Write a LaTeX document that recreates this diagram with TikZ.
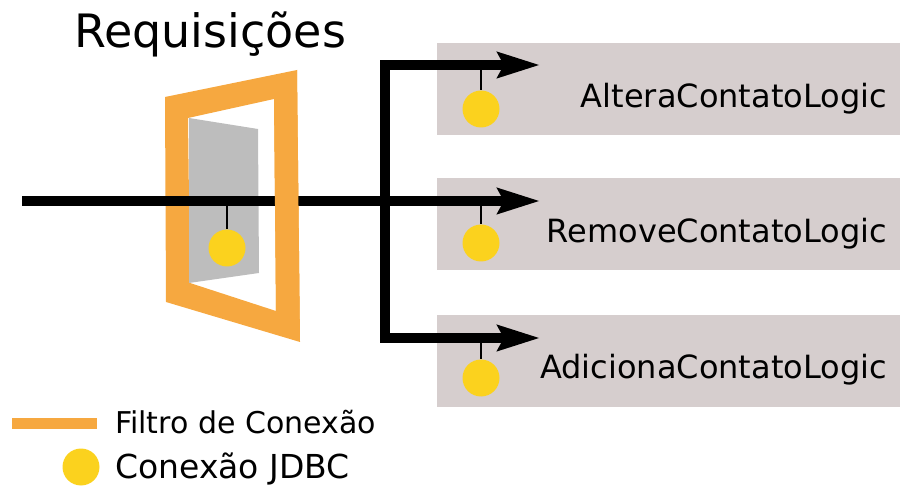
\documentclass[tikz,border=0pt]{standalone}
\usepackage{fontspec}
\setmainfont{DejaVu Sans}
\usetikzlibrary{arrows.meta}
\definecolor{boxgray}{HTML}{D6CECE}
\definecolor{frameorange}{HTML}{F6A840}
\definecolor{doorgray}{HTML}{BDBDBD}
\definecolor{jdbcyellow}{HTML}{FBD21E}
\tikzset{
  px/.style={x=1pt,y=-1pt},
  logicbox/.style={fill=boxgray,draw=none,minimum width=463pt,minimum height=92pt,inner sep=0pt},
  flow/.style={line width=9.5pt,line join=miter},
  tip/.style={-{Stealth[length=42pt,width=25pt,inset=6pt]}},
  pinstem/.style={line width=1.6pt},
  jdbc/.style={circle,fill=jdbcyellow,draw=none,minimum size=37pt,inner sep=0pt},
  boxlabel/.style={anchor=base east,inner sep=0pt,font=\fontsize{32}{36}\selectfont},
  legendtext/.style={anchor=base west,inner sep=0pt,font=\fontsize{30}{34}\selectfont},
}
\begin{document}
\begin{tikzpicture}[px]
\useasboundingbox (0,0) rectangle (900,486);
% boxes
\node[logicbox] (b1) at (668.5,89.5) {};
\node[logicbox] (b2) at (668.5,224) {};
\node[logicbox] (b3) at (668.5,361) {};
% title
\node[anchor=base,inner sep=0pt,font=\fontsize{46}{50}\selectfont] (title) at (210,48) {Requisições};
% filter frame
\fill[frameorange,even odd rule] (165,97) -- (297,70) -- (300,342) -- (166,302) -- cycle
  (188,118) -- (274,99) -- (276,311) -- (190,283) -- cycle;
\fill[doorgray] (189,118) -- (258,129) -- (259,273) -- (189,283) -- cycle;
% coordinates
\coordinate (start) at (22,201);
\coordinate (jTop) at (385,65);
\coordinate (jBot) at (385,338);
\coordinate (tTop) at (540,65);
\coordinate (tMid) at (540,201);
\coordinate (tBot) at (540,338);
% flows
\draw[flow,tip] (start) -- (tMid);
\draw[flow,{Stealth[length=42pt,width=25pt,inset=6pt]}-{Stealth[length=42pt,width=25pt,inset=6pt]}] (tTop) -- (jTop) -- (jBot) -- (tBot);
% right bar of frame over the line
\fill[frameorange] (274,99) -- (297,70) -- (300,342) -- (276,311) -- cycle;
% JDBC pins
\node[jdbc] (cf) at (227,248) {};
\node[jdbc] (c1) at (481,109) {};
\node[jdbc] (c2) at (481,243) {};
\node[jdbc] (c3) at (481,378) {};
\coordinate (sf) at (227,201);
\coordinate (s1) at (481,65);
\coordinate (s2) at (481,201);
\coordinate (s3) at (481,338);
\draw[pinstem] (sf) -- (cf.north);
\draw[pinstem] (s1) -- (c1.north);
\draw[pinstem] (s2) -- (c2.north);
\draw[pinstem] (s3) -- (c3.north);
% labels
\node[boxlabel] (l1) at (887,108) {AlteraContatoLogic};
\node[boxlabel] (l2) at (887,243) {RemoveContatoLogic};
\node[boxlabel] (l3) at (887,378) {AdicionaContatoLogic};
% legend
\coordinate (lg1) at (12,423);
\coordinate (lg2) at (97,423);
\draw[frameorange,line width=11pt] (lg1) -- (lg2);
\node[legendtext] (lt1) at (115,433) {Filtro de Conexão};
\node[jdbc] (lc) at (81,467) {};
\node[legendtext,font=\fontsize{33}{37}\selectfont] (lt2) at (115,478) {Conexão JDBC};
\end{tikzpicture}
\end{document}
